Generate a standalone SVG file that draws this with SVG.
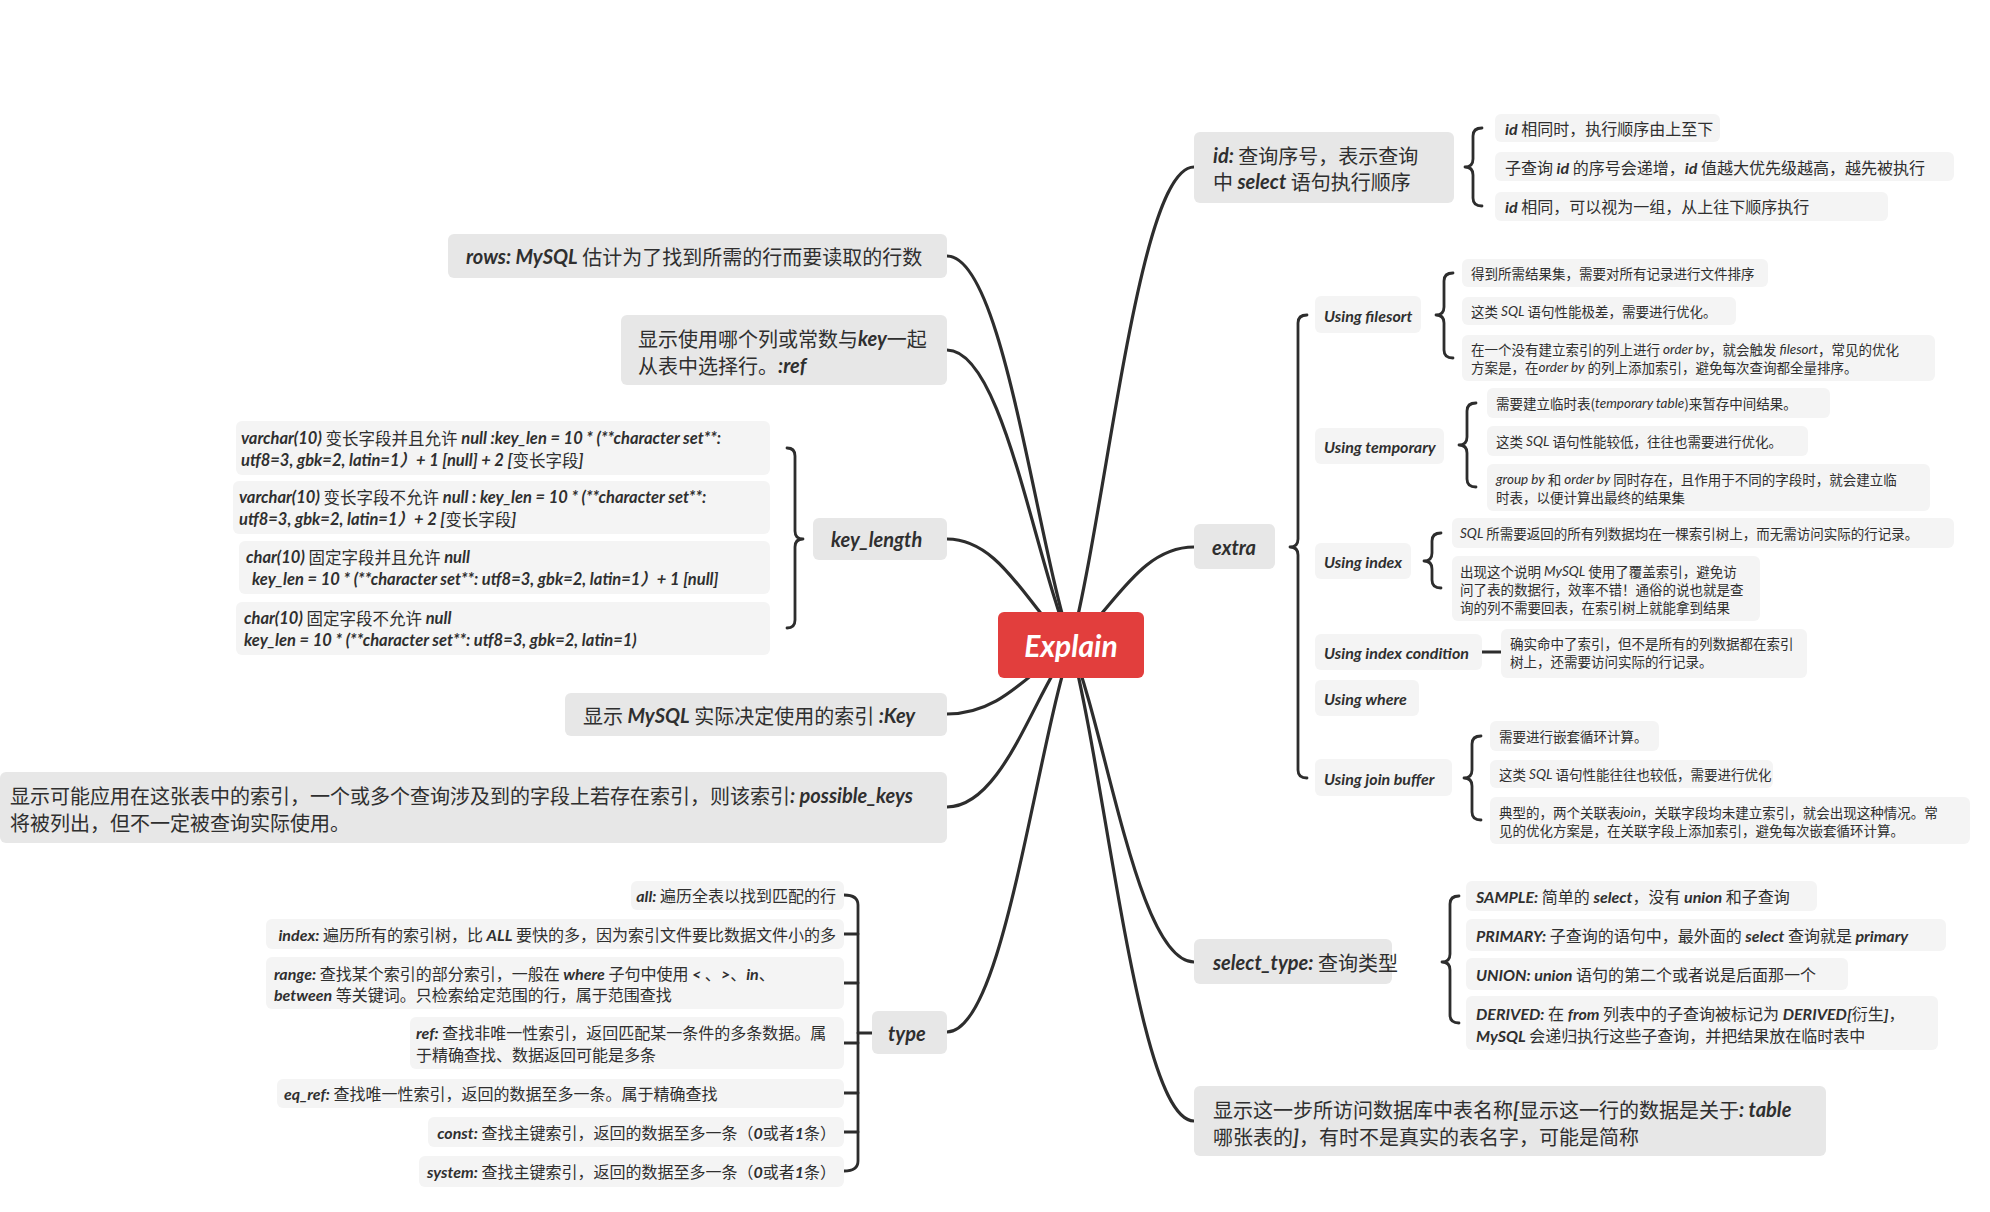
<svg xmlns="http://www.w3.org/2000/svg" width="1990" height="1212" viewBox="0 0 1990 1212">
<style>
  .l1 { fill: #e7e7e7; }
  .l2 { fill: #f4f4f4; }
  .t { font-family: "Noto Sans CJK SC", sans-serif; fill: #2f2f2f; dominant-baseline: central; }
  .s20 { font-size: 20px; }
  .s16 { font-size: 16px; }
  .s165 { font-size: 16.5px; }
  .s14 { font-size: 13.5px; }
  .b { font-family: Lato, "Noto Sans CJK SC", sans-serif; font-style: italic; font-weight: 700; }
  .i { font-family: Lato, "Noto Sans CJK SC", sans-serif; font-style: italic; font-weight: 400; }
  .end { text-anchor: end; }
  .ln { fill: none; stroke: #2d2d2d; stroke-width: 3.2; stroke-linecap: round; stroke-linejoin: round; }
  .br { fill: none; stroke: #2d2d2d; stroke-width: 2.8; stroke-linecap: round; stroke-linejoin: round; }
</style>
<rect width="1990" height="1212" fill="#ffffff"/>

<!-- connectors from the root to the first-level topics, plus braces and tree brackets -->
<g id="connectors">
  <path class="ln" d="M1071 645 C1107.9 501.6 1138.65 167 1194 167"/>
  <path class="ln" d="M1071 645 C1112 612 1138.65 547 1194 547"/>
  <path class="ln" d="M1071 645 C1107.9 740.1 1138.65 962 1194 962"/>
  <path class="ln" d="M1071 645 C1107.9 787.8 1138.65 1121 1194 1121"/>
  <path class="ln" d="M1071 645 C1033.8 528.3 1002.8 256 947 256"/>
  <path class="ln" d="M1071 645 C1033.8 556.5 1002.8 350 947 350"/>
  <path class="ln" d="M1071 645 C1030 613.2 1002.8 539 947 539"/>
  <path class="ln" d="M1071 645 C1030 670 1002.8 714 947 714"/>
  <path class="ln" d="M1071 645 C1033.8 693.6 1002.8 807 947 807"/>
  <path class="ln" d="M1071 645 C1033.8 761.1 1002.8 1032 947 1032"/>
  <!-- braces -->
  <path class="br" d="M1482 128 Q1473 128 1473 136 L1473 159 Q1473 167 1465 167 Q1473 167 1473 175 L1473 198 Q1473 206 1482 206"/>
  <path class="br" d="M1307 315 Q1298 315 1298 323 L1298 539 Q1298 547 1290 547 Q1298 547 1298 555 L1298 770 Q1298 778 1307 778"/>
  <path class="br" d="M1453 273 Q1444 273 1444 281 L1444 307 Q1444 315 1436 315 Q1444 315 1444 323 L1444 350 Q1444 358 1453 358"/>
  <path class="br" d="M1476 403 Q1467 403 1467 411 L1467 437 Q1467 445 1459 445 Q1467 445 1467 453 L1467 479 Q1467 487 1476 487"/>
  <path class="br" d="M1441 533 Q1432 533 1432 541 L1432 553 Q1432 561 1424 561 Q1432 561 1432 569 L1432 580 Q1432 588 1441 588"/>
  <path class="ln" d="M1482 652 H1501"/>
  <path class="br" d="M1481 736 Q1472 736 1472 744 L1472 770 Q1472 778 1464 778 Q1472 778 1472 786 L1472 812 Q1472 820 1481 820"/>
  <path class="br" d="M1459 896 Q1450 896 1450 904 L1450 954 Q1450 962 1442 962 Q1450 962 1450 970 L1450 1015 Q1450 1023 1459 1023"/>
  <path class="br" d="M787 448 Q795 448 795 456 L795 531 Q795 539 803 539 Q795 539 795 547 L795 620 Q795 628 787 628"/>
  <!-- tree bracket for type -->
  <path class="br" d="M844 895 Q858 895 858 905 L858 1161 Q858 1171 844 1171"/>
  <path class="br" d="M844 934 H858 M844 983 H858 M844 1043 H858 M844 1093 H858 M844 1132 H858 M858 1033 H872"/>
</g>

<!-- root -->
<g id="root">
  <rect x="998" y="612" width="146" height="66" rx="6" fill="#e23e3d"/>
  <text x="1071" y="645" text-anchor="middle" dominant-baseline="central" font-family="Lato, sans-serif" font-style="italic" font-weight="700" font-size="30" fill="#ffffff">Explain</text>
</g>

<!-- id -->
<g id="n-id">
  <rect class="l1" x="1194" y="132" width="260" height="71" rx="6"/>
  <text class="t s20" x="1213" y="155"><tspan class="b">id:</tspan> 查询序号，表示查询<tspan x="1213" dy="26">中 </tspan><tspan class="b">select</tspan> 语句执行顺序</text>
</g>
<g id="n-id-1">
  <rect class="l2" x="1495" y="114" width="225" height="28" rx="6"/>
  <text class="t s16" x="1505" y="128"><tspan class="b">id</tspan> 相同时，执行顺序由上至下</text>
</g>
<g id="n-id-2">
  <rect class="l2" x="1495" y="152" width="459" height="29" rx="6"/>
  <text class="t s16" x="1505" y="166.5">子查询 <tspan class="b">id</tspan> 的序号会递增，<tspan class="b">id</tspan> 值越大优先级越高，越先被执行</text>
</g>
<g id="n-id-3">
  <rect class="l2" x="1495" y="192" width="393" height="29" rx="6"/>
  <text class="t s16" x="1505" y="206"><tspan class="b">id</tspan> 相同，可以视为一组，从上往下顺序执行</text>
</g>

<!-- extra -->
<g id="n-extra">
  <rect class="l1" x="1194" y="524" width="81" height="45" rx="6"/>
  <text class="t s20 b" x="1212" y="547">extra</text>
</g>
<g id="n-filesort">
  <rect class="l2" x="1315" y="296" width="106" height="37" rx="6"/>
  <text class="t s16 b" x="1324" y="315">Using filesort</text>
</g>
<g id="n-filesort-1">
  <rect class="l2" x="1462" y="259" width="306" height="28" rx="6"/>
  <text class="t s14" x="1471" y="273">得到所需结果集，需要对所有记录进行文件排序</text>
</g>
<g id="n-filesort-2">
  <rect class="l2" x="1462" y="297" width="274" height="28" rx="6"/>
  <text class="t s14" x="1471" y="311">这类 <tspan class="i">SQL</tspan> 语句性能极差，需要进行优化。</text>
</g>
<g id="n-filesort-3">
  <rect class="l2" x="1462" y="335" width="473" height="46" rx="6"/>
  <text class="t s14" x="1471" y="349">在一个没有建立索引的列上进行 <tspan class="i">order by</tspan>，就会触发 <tspan class="i">filesort</tspan>，常见的优化<tspan x="1471" dy="18">方案是，在</tspan><tspan class="i">order by</tspan> 的列上添加索引，避免每次查询都全量排序。</text>
</g>
<g id="n-temporary">
  <rect class="l2" x="1315" y="428" width="129" height="36" rx="6"/>
  <text class="t s16 b" x="1324" y="446">Using temporary</text>
</g>
<g id="n-temporary-1">
  <rect class="l2" x="1487" y="388" width="343" height="30" rx="6"/>
  <text class="t s14" x="1496" y="403">需要建立临时表(<tspan class="i">temporary table</tspan>)来暂存中间结果。</text>
</g>
<g id="n-temporary-2">
  <rect class="l2" x="1487" y="426" width="321" height="30" rx="6"/>
  <text class="t s14" x="1496" y="441">这类 <tspan class="i">SQL</tspan> 语句性能较低，往往也需要进行优化。</text>
</g>
<g id="n-temporary-3">
  <rect class="l2" x="1487" y="464" width="443" height="47" rx="6"/>
  <text class="t s14" x="1496" y="479"><tspan class="i">group by</tspan> 和 <tspan class="i">order by</tspan> 同时存在，且作用于不同的字段时，就会建立临<tspan x="1496" dy="18">时表，以便计算出最终的结果集</tspan></text>
</g>
<g id="n-index">
  <rect class="l2" x="1315" y="543" width="96" height="36" rx="6"/>
  <text class="t s16 b" x="1324" y="561">Using index</text>
</g>
<g id="n-index-1">
  <rect class="l2" x="1452" y="518" width="502" height="30" rx="6"/>
  <text class="t s14" x="1460" y="533"><tspan class="i">SQL</tspan> 所需要返回的所有列数据均在一棵索引树上，而无需访问实际的行记录。</text>
</g>
<g id="n-index-2">
  <rect class="l2" x="1452" y="556" width="308" height="65" rx="6"/>
  <text class="t s14" x="1460" y="571">出现这个说明 <tspan class="i">MySQL</tspan> 使用了覆盖索引，避免访<tspan x="1460" dy="18">问了表的数据行，效率不错！通俗的说也就是查</tspan><tspan x="1460" dy="18">询的列不需要回表，在索引树上就能拿到结果</tspan></text>
</g>
<g id="n-index-condition">
  <rect class="l2" x="1315" y="634" width="167" height="36" rx="6"/>
  <text class="t s16 b" x="1324" y="652">Using index condition</text>
</g>
<g id="n-index-condition-1">
  <rect class="l2" x="1501" y="629" width="306" height="49" rx="6"/>
  <text class="t s14" x="1510" y="643">确实命中了索引，但不是所有的列数据都在索引<tspan x="1510" dy="18">树上，还需要访问实际的行记录。</tspan></text>
</g>
<g id="n-where">
  <rect class="l2" x="1315" y="680" width="104" height="36" rx="6"/>
  <text class="t s16 b" x="1324" y="698">Using where</text>
</g>
<g id="n-join-buffer">
  <rect class="l2" x="1315" y="759" width="137" height="37" rx="6"/>
  <text class="t s16 b" x="1324" y="778">Using join buffer</text>
</g>
<g id="n-join-buffer-1">
  <rect class="l2" x="1490" y="721" width="169" height="30" rx="6"/>
  <text class="t s14" x="1499" y="736">需要进行嵌套循环计算。</text>
</g>
<g id="n-join-buffer-2">
  <rect class="l2" x="1490" y="760" width="283" height="28" rx="6"/>
  <text class="t s14" x="1499" y="774">这类 <tspan class="i">SQL</tspan> 语句性能往往也较低，需要进行优化</text>
</g>
<g id="n-join-buffer-3">
  <rect class="l2" x="1490" y="797" width="480" height="47" rx="6"/>
  <text class="t s14" x="1499" y="812">典型的，两个关联表<tspan class="i">join</tspan>，关联字段均未建立索引，就会出现这种情况。常<tspan x="1499" dy="18">见的优化方案是，在关联字段上添加索引，避免每次嵌套循环计算。</tspan></text>
</g>

<!-- select_type -->
<g id="n-select-type">
  <rect class="l1" x="1194" y="939" width="198" height="45" rx="6"/>
  <text class="t s20" x="1213" y="962"><tspan class="b">select_type:</tspan> 查询类型</text>
</g>
<g id="n-select-type-1">
  <rect class="l2" x="1466" y="881" width="351" height="30" rx="6"/>
  <text class="t s16" x="1476" y="896"><tspan class="b">SAMPLE:</tspan> 简单的 <tspan class="b">select</tspan>，没有 <tspan class="b">union</tspan> 和子查询</text>
</g>
<g id="n-select-type-2">
  <rect class="l2" x="1466" y="919" width="480" height="32" rx="6"/>
  <text class="t s16" x="1476" y="935"><tspan class="b">PRIMARY:</tspan> 子查询的语句中，最外面的 <tspan class="b">select</tspan> 查询就是 <tspan class="b">primary</tspan></text>
</g>
<g id="n-select-type-3">
  <rect class="l2" x="1466" y="958" width="382" height="32" rx="6"/>
  <text class="t s16" x="1476" y="974"><tspan class="b">UNION: union</tspan> 语句的第二个或者说是后面那一个</text>
</g>
<g id="n-select-type-4">
  <rect class="l2" x="1466" y="996" width="472" height="54" rx="6"/>
  <text class="t s16" x="1476" y="1013"><tspan class="b">DERIVED:</tspan> 在 <tspan class="b">from</tspan> 列表中的子查询被标记为 <tspan class="b">DERIVED[</tspan>衍生<tspan class="b">]</tspan>，<tspan class="b" x="1476" dy="22">MySQL</tspan> 会递归执行这些子查询，并把结果放在临时表中</text>
</g>

<!-- table -->
<g id="n-table">
  <rect class="l1" x="1194" y="1086" width="632" height="70" rx="6"/>
  <text class="t s20" x="1213" y="1109">显示这一步所访问数据库中表名称<tspan class="b">[</tspan>显示这一行的数据是关于<tspan class="b">: table</tspan><tspan x="1213" dy="27">哪张表的</tspan><tspan class="b">]</tspan>，有时不是真实的表名字，可能是简称</text>
</g>

<!-- rows -->
<g id="n-rows">
  <rect class="l1" x="448" y="234" width="499" height="44" rx="6"/>
  <text class="t s20" x="466" y="256"><tspan class="b">rows: MySQL</tspan> 估计为了找到所需的行而要读取的行数</text>
</g>

<!-- ref -->
<g id="n-ref">
  <rect class="l1" x="621" y="315" width="326" height="70" rx="6"/>
  <text class="t s20" x="638" y="338">显示使用哪个列或常数与<tspan class="b">key</tspan>一起<tspan x="638" dy="26.5">从表中选择行。</tspan><tspan class="b">:ref</tspan></text>
</g>

<!-- key_length -->
<g id="n-key-length">
  <rect class="l1" x="813" y="518" width="134" height="42" rx="6"/>
  <text class="t s20 b" x="831" y="539">key_length</text>
</g>
<g id="n-key-length-1">
  <rect class="l2" x="236" y="421" width="534" height="54" rx="6"/>
  <text class="t s165" x="241" y="437.5"><tspan class="b">varchar(10)</tspan> 变长字段并且允许 <tspan class="b">null :key_len = 10 * (**character set**:</tspan><tspan class="b" x="241" dy="22">utf8=3, gbk=2, latin=1）+ 1 [null] + 2 [</tspan>变长字段<tspan class="b">]</tspan></text>
</g>
<g id="n-key-length-2">
  <rect class="l2" x="233" y="481" width="537" height="53" rx="6"/>
  <text class="t s165" x="239" y="497"><tspan class="b">varchar(10)</tspan> 变长字段不允许 <tspan class="b">null : key_len = 10 * (**character set**:</tspan><tspan class="b" x="239" dy="22">utf8=3, gbk=2, latin=1）+ 2 [</tspan>变长字段<tspan class="b">]</tspan></text>
</g>
<g id="n-key-length-3">
  <rect class="l2" x="239" y="541" width="531" height="53" rx="6"/>
  <text class="t s165" x="246" y="557"><tspan class="b">char(10)</tspan> 固定字段并且允许 <tspan class="b">null</tspan><tspan class="b" x="252" dy="22">key_len = 10 * (**character set**: utf8=3, gbk=2, latin=1）+ 1 [null]</tspan></text>
</g>
<g id="n-key-length-4">
  <rect class="l2" x="236" y="602" width="534" height="53" rx="6"/>
  <text class="t s165" x="244" y="617.5"><tspan class="b">char(10)</tspan> 固定字段不允许 <tspan class="b">null</tspan><tspan class="b" x="244" dy="22">key_len = 10 * (**character set**: utf8=3, gbk=2, latin=1)</tspan></text>
</g>

<!-- key -->
<g id="n-key">
  <rect class="l1" x="565" y="693" width="382" height="43" rx="6"/>
  <text class="t s20" x="583" y="715">显示 <tspan class="b">MySQL</tspan> 实际决定使用的索引 <tspan class="b">:Key</tspan></text>
</g>

<!-- possible_keys -->
<g id="n-possible-keys">
  <rect class="l1" x="0" y="772" width="947" height="71" rx="6"/>
  <text class="t s20" x="10" y="795">显示可能应用在这张表中的索引，一个或多个查询涉及到的字段上若存在索引，则该索引<tspan class="b">: possible_keys</tspan><tspan x="10" dy="26.5">将被列出，但不一定被查询实际使用。</tspan></text>
</g>

<!-- type -->
<g id="n-type">
  <rect class="l1" x="872" y="1011" width="75" height="43" rx="6"/>
  <text class="t s20 b" x="888" y="1033">type</text>
</g>
<g id="n-type-all">
  <rect class="l2" x="631" y="881" width="213" height="29" rx="6"/>
  <text class="t s16 end" x="836" y="895"><tspan class="b">all:</tspan> 遍历全表以找到匹配的行</text>
</g>
<g id="n-type-index">
  <rect class="l2" x="266" y="919" width="578" height="30" rx="6"/>
  <text class="t s16 end" x="836" y="934"><tspan class="b">index:</tspan> 遍历所有的索引树，比 <tspan class="b">ALL</tspan> 要快的多，因为索引文件要比数据文件小的多</text>
</g>
<g id="n-type-range">
  <rect class="l2" x="266" y="957" width="578" height="52" rx="6"/>
  <text class="t s16" x="274" y="972.5"><tspan class="b">range:</tspan> 查找某个索引的部分索引，一般在 <tspan class="b">where</tspan> 子句中使用 <tspan class="b">&lt;</tspan> 、<tspan class="b">&gt;</tspan>、<tspan class="b">in</tspan>、<tspan class="b" x="274" dy="21.5">between</tspan> 等关键词。只检索给定范围的行，属于范围查找</text>
</g>
<g id="n-type-ref">
  <rect class="l2" x="410" y="1017" width="434" height="52" rx="6"/>
  <text class="t s16" x="416" y="1032"><tspan class="b">ref:</tspan> 查找非唯一性索引，返回匹配某一条件的多条数据。属<tspan x="416" dy="21.5">于精确查找、数据返回可能是多条</tspan></text>
</g>
<g id="n-type-eq-ref">
  <rect class="l2" x="277" y="1079" width="567" height="29" rx="6"/>
  <text class="t s16" x="284" y="1093"><tspan class="b">eq_ref:</tspan> 查找唯一性索引，返回的数据至多一条。属于精确查找</text>
</g>
<g id="n-type-const">
  <rect class="l2" x="428" y="1117" width="416" height="30" rx="6"/>
  <text class="t s16 end" x="836" y="1132"><tspan class="b">const:</tspan> 查找主键索引，返回的数据至多一条（<tspan class="b">0</tspan>或者<tspan class="b">1</tspan>条）</text>
</g>
<g id="n-type-system">
  <rect class="l2" x="419" y="1156" width="425" height="31" rx="6"/>
  <text class="t s16 end" x="836" y="1171"><tspan class="b">system:</tspan> 查找主键索引，返回的数据至多一条（<tspan class="b">0</tspan>或者<tspan class="b">1</tspan>条）</text>
</g>
</svg>
